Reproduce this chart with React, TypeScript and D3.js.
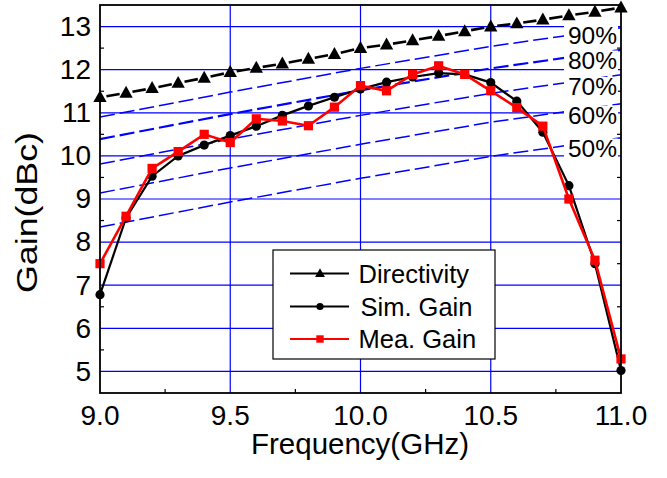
import React from "react";
import * as d3 from "d3";

const freq = [9.0, 9.1, 9.2, 9.3, 9.4, 9.5, 9.6, 9.7, 9.8, 9.9, 10.0, 10.1, 10.2, 10.3, 10.4, 10.5, 10.6, 10.7, 10.8, 10.9, 11.0];
const directivity = [11.36, 11.46, 11.57, 11.69, 11.81, 11.94, 12.04, 12.14, 12.25, 12.36, 12.5, 12.58, 12.68, 12.78, 12.89, 13.0, 13.07, 13.16, 13.26, 13.34, 13.44];
const simGain = [6.78, 8.56, 9.53, 10.0, 10.25, 10.47, 10.69, 10.94, 11.16, 11.36, 11.55, 11.71, 11.83, 11.92, 11.89, 11.7, 11.27, 10.55, 9.31, 7.5, 5.02];
const meaGain = [7.5, 8.6, 9.71, 10.1, 10.5, 10.31, 10.86, 10.81, 10.7, 11.13, 11.63, 11.51, 11.89, 12.09, 11.89, 11.51, 11.12, 10.69, 9.0, 7.58, 5.29];

const effFreq = [9.0, 9.5, 10.0, 10.5, 11.0];
const eff90 = [10.9, 11.48, 12.03, 12.54, 12.97];
const eff80 = [10.39, 10.97, 11.52, 12.03, 12.46];
const eff70 = [9.81, 10.39, 10.94, 11.45, 11.88];
const eff60 = [9.14, 9.72, 10.27, 10.78, 11.21];
const eff50 = [8.35, 8.93, 9.48, 9.99, 10.42];
const effLabels = ["90%", "80%", "70%", "60%", "50%"];
const effSeries = [eff90, eff80, eff70, eff60, eff50];

const xTicks = [9.0, 9.5, 10.0, 10.5, 11.0];
const xTickLabels = ["9.0", "9.5", "10.0", "10.5", "11.0"];
const yTicks = [5, 6, 7, 8, 9, 10, 11, 12, 13];
const legendNames = ["Directivity", "Sim. Gain", "Mea. Gain"];

const FONT = "'Liberation Sans', Arial, Helvetica, sans-serif";

export default function App() {
  const W = 667, H = 478;
  const left = 100, right = 621, top = 5, bottom = 393;
  const x = d3.scaleLinear().domain([9, 11]).range([left, right]);
  const y = d3.scaleLinear().domain([4.5, 13.5]).range([bottom, top]);

  const line = d3.line<[number, number]>().x(d => x(d[0])).y(d => y(d[1]));
  const simPts: [number, number][] = freq.map((f, i) => [f, simGain[i]]);
  const meaPts: [number, number][] = freq.map((f, i) => [f, meaGain[i]]);
  const dirPts: [number, number][] = freq.map((f, i) => [f, directivity[i]]);

  const dirSegs = dirPts.slice(0, -1).map((p, i) => {
    const q = dirPts[i + 1];
    const x1 = x(p[0]), y1 = y(p[1]), x2 = x(q[0]), y2 = y(q[1]);
    const len = Math.hypot(x2 - x1, y2 - y1);
    const ux = (x2 - x1) / len, uy = (y2 - y1) / len;
    const g = 6.5;
    return { x1: x1 + ux * g, y1: y1 + uy * g, x2: x2 - ux * g, y2: y2 - uy * g };
  });

  const xMinor = d3.range(9.25, 11, 0.5);
  const yMinor = d3.range(5.5, 13.5, 1);

  const tri = (cx: number, cy: number, s: number) =>
    `M${cx},${cy - s * 0.62}L${cx + s * 0.58},${cy + s * 0.42}L${cx - s * 0.58},${cy + s * 0.42}Z`;

  const labelBaselines = [43.5, 68.5, 95, 123.5, 156.5];

  const legX = 273, legY = 250, legW = 222, legH = 109;
  const legRows = [273.5, 306.5, 339];

  return (
    <svg width={W} height={H} style={{ position: "absolute", left: 0, top: 0, background: "#fff" }} fontFamily={FONT}>
      <rect x={0} y={0} width={W} height={H} fill="#fff" />
      <g stroke="#000" strokeWidth={1.2}>
        {xMinor.map(v => <line key={"xm" + v} x1={x(v)} x2={x(v)} y1={bottom} y2={bottom - 4} />)}
        {yMinor.map(v => <line key={"ym" + v} x1={left} x2={left + 4} y1={y(v)} y2={y(v)} />)}
        {yMinor.map(v => <line key={"ymr" + v} x1={right} x2={right - 4} y1={y(v)} y2={y(v)} />)}
      </g>
      <g stroke="#0000ff" strokeWidth={1.2}>
        {xTicks.slice(1, -1).map(v => <line key={"gx" + v} x1={x(v)} x2={x(v)} y1={top} y2={bottom} />)}
        {yTicks.map(v => <line key={"gy" + v} x1={left} x2={right} y1={y(v)} y2={y(v)} />)}
      </g>
      <g fill="none" stroke="#0000ff">
        {effSeries.map((s, k) => (
          <path key={"e" + k}
            d={line(effFreq.map((f, i) => [f, s[i]] as [number, number])) || ""}
            strokeWidth={k === 1 ? 2.2 : 1.5}
            strokeDasharray="15,5" />
        ))}
      </g>
      {effLabels.map((t, k) => (
        <g key={"el" + k}>
          <rect x={564} y={labelBaselines[k] - 18} width={54} height={21} fill="#fff" />
          <text x={617} y={labelBaselines[k]} textAnchor="end" fontSize={24.5} fill="#000">{t}</text>
        </g>
      ))}
      <g stroke="#000" strokeWidth={2.6}>
        {dirSegs.map((s, i) => <line key={"ds" + i} x1={s.x1} y1={s.y1} x2={s.x2} y2={s.y2} />)}
      </g>
      <g fill="#000">
        {dirPts.map((p, i) => <path key={"dt" + i} d={tri(x(p[0]), y(p[1]), 11.5)} />)}
      </g>
      <path d={line(simPts) || ""} fill="none" stroke="#000" strokeWidth={2.2} />
      <g fill="#000">
        {simPts.map((p, i) => <circle key={"sc" + i} cx={x(p[0])} cy={y(p[1])} r={4.6} />)}
      </g>
      <path d={line(meaPts) || ""} fill="none" stroke="#ff0000" strokeWidth={2.6} />
      <g fill="#ff0000">
        {meaPts.map((p, i) => <rect key={"mr" + i} x={x(p[0]) - 4.6} y={y(p[1]) - 4.6} width={9.2} height={9.2} />)}
      </g>
      <rect x={left} y={top} width={right - left} height={bottom - top} fill="none" stroke="#000" strokeWidth={1.8} />
      {xTicks.map((v, i) => (
        <text key={"xl" + v} x={x(v)} y={425} textAnchor="middle" fontSize={28} fill="#000">{xTickLabels[i]}</text>
      ))}
      {yTicks.map(v => (
        <text key={"yl" + v} x={91} y={y(v) + 9.3} textAnchor="end" fontSize={28} fill="#000">{v}</text>
      ))}
      <text x={360} y={454} textAnchor="middle" fontSize={29.5} fill="#000">Frequency(GHz)</text>
      <text transform={`translate(37,212.5) rotate(-90)`} textAnchor="middle" fontSize={29}
        textLength={161} lengthAdjust="spacingAndGlyphs" fill="#000">Gain(dBc)</text>
      <rect x={legX} y={legY} width={legW} height={legH} fill="#fff" stroke="#000" strokeWidth={1.2} />
      {legendNames.map((n, i) => {
        const cy = legRows[i];
        const col = i === 2 ? "#ff0000" : "#000";
        return (
          <g key={"lg" + i}>
            <line x1={290} x2={349} y1={cy} y2={cy} stroke={col} strokeWidth={2.2} />
            {i === 0 && <path d={tri(320, cy, 8.5)} fill="#000" />}
            {i === 1 && <circle cx={320} cy={cy} r={3.6} fill="#000" />}
            {i === 2 && <rect x={316.3} y={cy - 3.7} width={7.4} height={7.4} fill="#ff0000" />}
            <text x={i === 1 ? 360.5 : 358.5} y={cy + 9} fontSize={25.5} fill="#000">{n}</text>
          </g>
        );
      })}
    </svg>
  );
}
